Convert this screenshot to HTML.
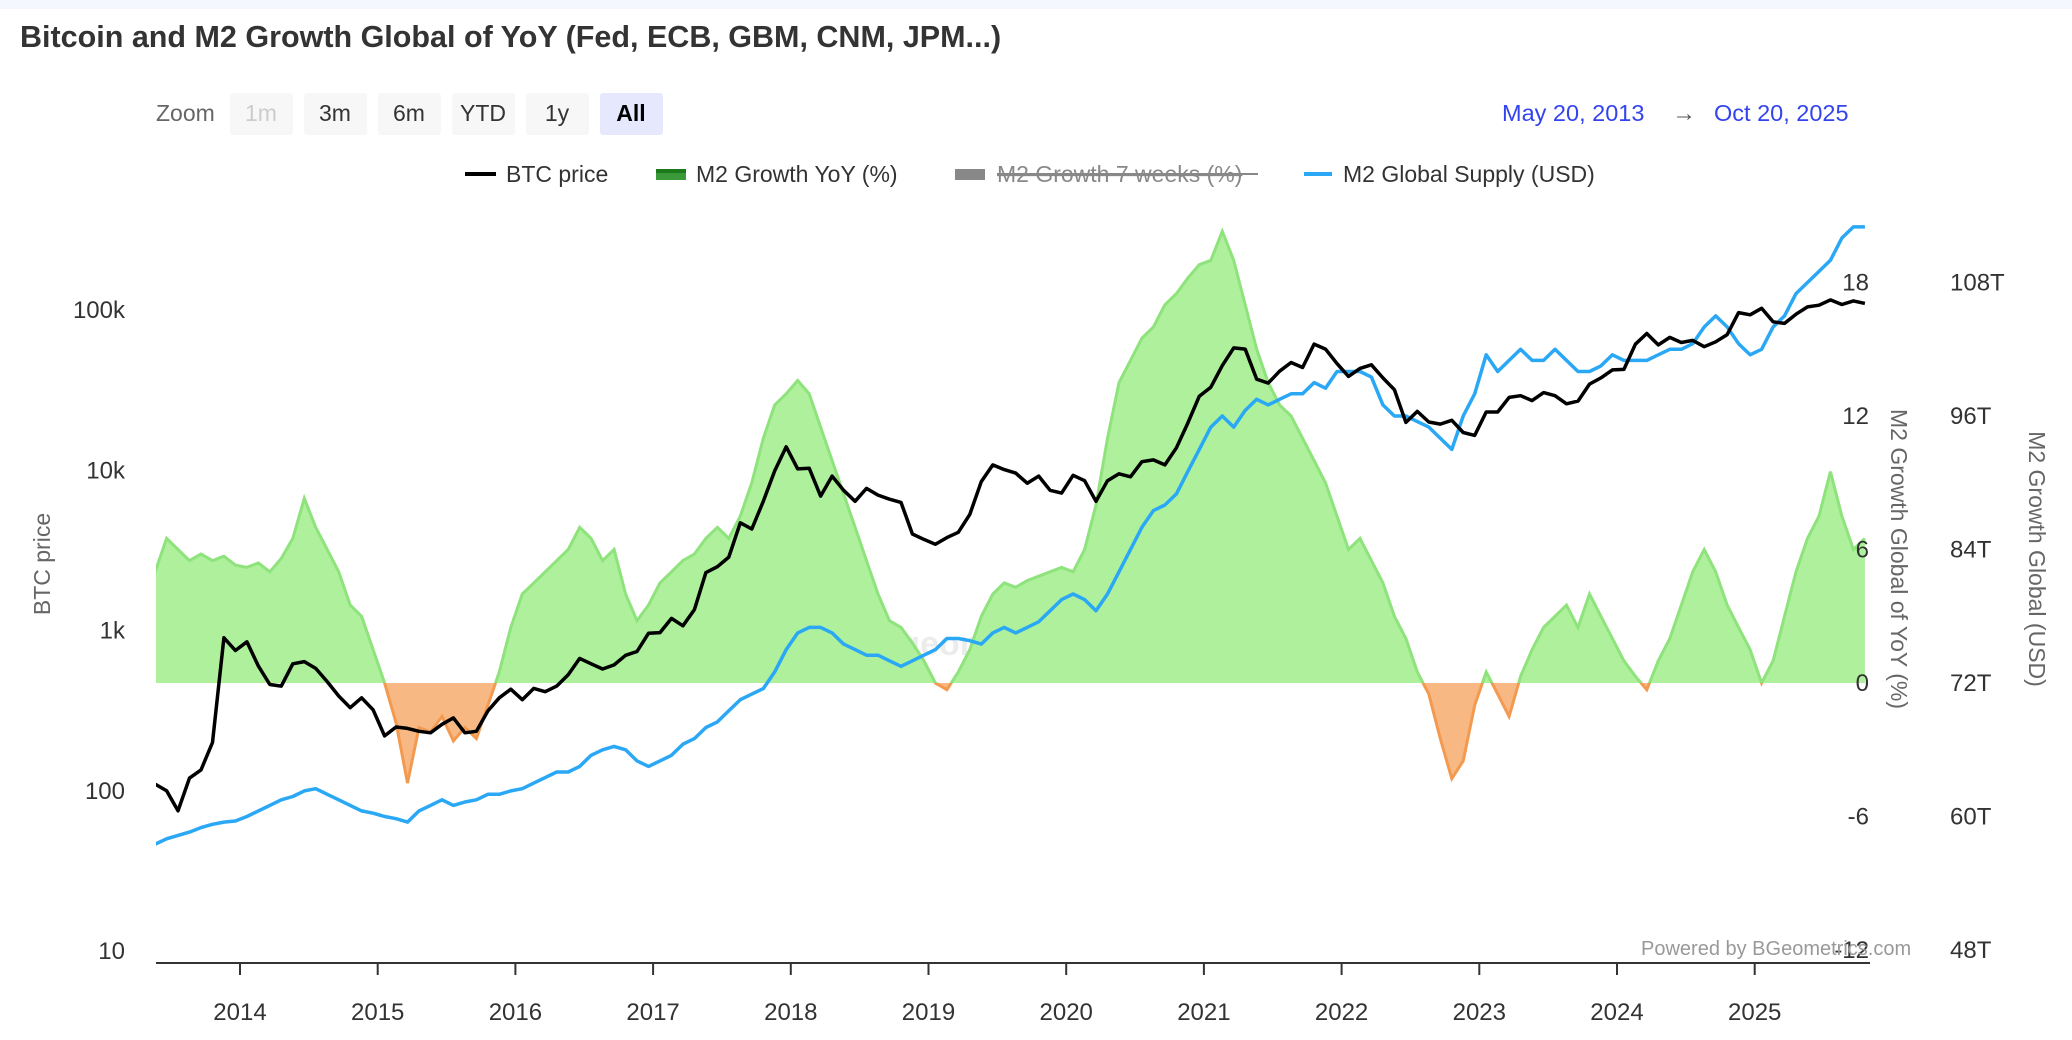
<!DOCTYPE html>
<html><head><meta charset="utf-8">
<style>
html,body{margin:0;padding:0;background:#fff;width:2072px;height:1040px;overflow:hidden;font-family:"Liberation Sans",sans-serif;}
svg{display:block}
</style></head>
<body>
<svg id="chart" width="2072" height="1040" xmlns="http://www.w3.org/2000/svg">
<rect x="0" y="0" width="2072" height="9" fill="#f5f7fe"/>
<text x="20" y="47" font-size="30.5" font-weight="bold" fill="#333">Bitcoin and M2 Growth Global of YoY (Fed, ECB, GBM, CNM, JPM...)</text>
<g font-size="23">
<text x="156" y="121" fill="#666">Zoom</text>
<g><rect x="230" y="93" width="63" height="42" rx="3" fill="#f7f7f7"/><text x="261" y="121" text-anchor="middle" fill="#ccc">1m</text></g>
<g><rect x="304" y="93" width="63" height="42" rx="3" fill="#f7f7f7"/><text x="335" y="121" text-anchor="middle" fill="#333">3m</text></g>
<g><rect x="378" y="93" width="63" height="42" rx="3" fill="#f7f7f7"/><text x="409" y="121" text-anchor="middle" fill="#333">6m</text></g>
<g><rect x="452" y="93" width="63" height="42" rx="3" fill="#f7f7f7"/><text x="483" y="121" text-anchor="middle" fill="#333">YTD</text></g>
<g><rect x="526" y="93" width="63" height="42" rx="3" fill="#f7f7f7"/><text x="557" y="121" text-anchor="middle" fill="#333">1y</text></g>
<g><rect x="600" y="93" width="63" height="42" rx="3" fill="#e6e9fd"/><text x="631" y="121" text-anchor="middle" fill="#000" font-weight="bold">All</text></g>
</g>
<g font-size="23.5">
<text x="1502" y="121" fill="#3344ee">May 20, 2013</text>
<text x="1684" y="121" fill="#555" text-anchor="middle">→</text>
<text x="1714" y="121" fill="#3344ee">Oct 20, 2025</text>
</g>
<g font-size="23">
<g><line x1="465" y1="174" x2="496" y2="174" stroke="#000" stroke-width="4"/><text x="506" y="182" fill="#333">BTC price</text></g>
<g><rect x="656" y="169" width="30" height="11" fill="#3a9a3a"/><rect x="656" y="169" width="30" height="4" fill="#1c7a1c"/><text x="696" y="182" fill="#333">M2 Growth YoY (%)</text></g>
<g><rect x="955" y="169" width="30" height="11" fill="#888"/><text x="997" y="182" fill="#888" text-decoration="line-through">M2 Growth 7 weeks (%)</text><line x1="997" y1="174" x2="1258" y2="174" stroke="#888" stroke-width="2"/></g>
<g><line x1="1304" y1="174" x2="1332" y2="174" stroke="#2aa8f5" stroke-width="4"/><text x="1343" y="182" fill="#333">M2 Global Supply (USD)</text></g>
</g>
<text x="990" y="655" font-size="34" font-weight="bold" fill="#e8e8e8" text-anchor="middle" opacity="0.8">geometrics</text>
<g id="plot"></g>
<text x="1641" y="955" font-size="20" fill="#999">Powered by BGeometrics.com</text>
</svg>
<script>
const startYear = 2013 + 4.6/12;
const yoyValues = [5.0,6.5,6.0,5.5,5.8,5.5,5.7,5.3,
5.2,5.4,5.0,5.6,6.5,8.3,7.0,6.0,5.0,3.5,3.0,1.5,
0,-1.8,-4.5,-2.0,-2.2,-1.5,-2.6,-2.0,-2.5,-1.0,0.5,2.5,
4.0,4.5,5.0,5.5,6.0,7.0,6.5,5.5,6.0,4.0,2.8,3.5,
4.5,5.0,5.5,5.8,6.5,7.0,6.5,7.5,9.0,11.0,12.5,13.0,
13.6,13.0,11.5,10.0,8.5,7.0,5.5,4.0,2.8,2.5,1.8,1.0,
0.0,-0.3,0.5,1.5,3.0,4.0,4.5,4.3,4.6,4.8,5.0,5.2,
5.0,6.0,8.0,11.0,13.5,14.5,15.5,16.0,17.0,17.5,18.2,18.8,
19.0,20.3,19.0,17.0,15.0,13.5,12.5,12.0,11.0,10.0,9.0,7.5,
6.0,6.5,5.5,4.5,3.0,2.0,0.5,-0.5,-2.5,-4.3,-3.5,-1.0,
0.5,-0.5,-1.5,0.3,1.5,2.5,3.0,3.5,2.5,4.0,3.0,2.0,
1.0,0.3,-0.3,1.0,2.0,3.5,5.0,6.0,5.0,3.5,2.5,1.5,
0.0,1.0,3.0,5.0,6.5,7.5,9.5,7.5,6.0,6.5];
const btcValues = [110,100,75,120,135,200,900,750,
850,600,460,450,620,640,580,480,390,330,380,320,
220,250,245,235,230,260,285,230,235,315,380,430,
370,435,415,450,530,670,620,575,610,700,740,960,
970,1190,1070,1350,2300,2500,2870,4700,4300,6400,9900,14000,
10200,10300,6900,9200,7500,6400,7700,7000,6600,6300,4000,3700,
3450,3800,4100,5300,8500,10800,10100,9600,8300,9200,7500,7200,
9300,8600,6400,8600,9500,9100,11300,11600,10800,13800,19700,29000,
33000,45000,58000,57000,37000,35000,41500,47000,43800,61300,57000,46300,
38500,43200,45500,37700,31800,19900,23300,20000,19400,20500,17200,16500,
23100,23100,28500,29200,27200,30500,29200,26000,27000,34500,37700,42300,
42600,61200,71300,60600,67500,62700,64600,59000,63300,70200,96400,93400,
102400,84400,82500,94200,104600,107100,115700,108200,114000,110000];
const m2Values = [57.5,58,58.3,58.6,59,59.3,59.5,59.6,
60,60.5,61,61.5,61.8,62.3,62.5,62,61.5,61,60.5,60.3,
60,59.8,59.5,60.5,61,61.5,61,61.3,61.5,62,62,62.3,
62.5,63,63.5,64,64,64.5,65.5,66,66.3,66,65,64.5,
65,65.5,66.5,67,68,68.5,69.5,70.5,71,71.5,73,75,
76.5,77,77,76.5,75.5,75,74.5,74.5,74,73.5,74,74.5,
75,76,76,75.8,75.5,76.5,77,76.5,77,77.5,78.5,79.5,
80,79.5,78.5,80,82,84,86,87.5,88,89,91,93,
95,96,95,96.5,97.5,97,97.5,98,98,99,98.5,100,
100,100,99.5,97,96,96,95.5,95,94,93,96,98,
101.5,100,101,102,101,101,102,101,100,100,100.5,101.5,
101,101,101,101.5,102,102,102.5,104,105,104,102.5,101.5,
102,104,105,107,108,109,110,112,113,113];
const yearTicks = [2014,2015,2016,2017,2018,2019,2020,2021,2022,2023,2024,2025];
const btcTicks = [10,100,1000,10000,100000];
const btcTickLabels = ["10","100","1k","10k","100k"];
const yoyTicks = [-12,-6,0,6,12,18];
const m2Ticks = [48,60,72,84,96,108];

const X0=156, X1=1870;
const xS = t => 240 + (t-2014)*137.7;
const yBtc = v => 951 - (Math.log10(v)-1)*160.25;
const yYoy = v => 683 - v*22.25;
const yM2 = v => 683 - (v-72)*11.125;
const tAt = i => Math.min(startYear + i/12, 2025.8);

const NS="http://www.w3.org/2000/svg";
const plot=document.getElementById('plot');
function mk(tag,attrs,parent){const e=document.createElementNS(NS,tag);for(const k in attrs)e.setAttribute(k,attrs[k]);(parent||plot).appendChild(e);return e;}

const defs=mk('defs',{});
const cpA=mk('clipPath',{id:'above'},defs); mk('rect',{x:X0,y:0,width:X1-X0,height:683},cpA);
const cpB=mk('clipPath',{id:'below'},defs); mk('rect',{x:X0,y:683,width:X1-X0,height:300},cpB);
const cpP=mk('clipPath',{id:'plotclip'},defs); mk('rect',{x:X0,y:0,width:X1-X0,height:963},cpP);

let line='';
yoyValues.forEach((v,i)=>{line+=(i?'L':'M')+xS(tAt(i)).toFixed(1)+','+yYoy(v).toFixed(1);});
const area=line+'L'+xS(tAt(yoyValues.length-1)).toFixed(1)+',683L'+xS(startYear).toFixed(1)+',683Z';
const ga=mk('path',{d:area,fill:'#aef09c',stroke:'none','clip-path':'url(#above)'});


const gl=mk('path',{d:line,fill:'none',stroke:'#8fe37c','stroke-width':3,'clip-path':'url(#above)'});


const oa=mk('path',{d:area,fill:'#f8b884',stroke:'none','clip-path':'url(#below)'});


const ol=mk('path',{d:line,fill:'none',stroke:'#f39a50','stroke-width':3,'clip-path':'url(#below)'});



let m2d='';
m2Values.forEach((v,i)=>{m2d+=(i?'L':'M')+xS(tAt(i)).toFixed(1)+','+yM2(v).toFixed(1);});
const m2l=mk('path',{d:m2d,fill:'none',stroke:'#2aa8f5','stroke-width':3.5,'stroke-linejoin':'round','clip-path':'url(#plotclip)'});



let bd='';
btcValues.forEach((v,i)=>{bd+=(i?'L':'M')+xS(tAt(i)).toFixed(1)+','+yBtc(v).toFixed(1);});
const bl=mk('path',{d:bd,fill:'none',stroke:'#000','stroke-width':3.5,'stroke-linejoin':'round','clip-path':'url(#plotclip)'});



const ax=mk('line',{x1:X0,y1:963,x2:X1,y2:963,stroke:'#333','stroke-width':2});


yearTicks.forEach(y=>{
  const x=xS(y);
  const tk=mk('line',{x1:x,y1:963,x2:x,y2:975,stroke:'#333','stroke-width':2});
  
  
  const t=mk('text',{x:x,y:1020,'font-size':24,'text-anchor':'middle',fill:'#333'});
  t.textContent=y;
  
  
});
btcTicks.forEach((v,i)=>{
  const t=mk('text',{x:125,y:yBtc(v)+8,'font-size':24,'text-anchor':'end',fill:'#333'});
  t.textContent=btcTickLabels[i];
  
  
});
const lt=mk('text',{x:0,y:0,'font-size':23,'text-anchor':'middle',fill:'#666',transform:'translate(50,564) rotate(-90)'});
lt.textContent='BTC price';


yoyTicks.forEach(v=>{
  const t=mk('text',{x:1869,y:yYoy(v)+8,'font-size':24,'text-anchor':'end',fill:'#333'});
  t.textContent=v;
  
  
});
const rt=mk('text',{x:0,y:0,'font-size':23,'text-anchor':'middle',fill:'#666',transform:'translate(1891,559) rotate(90)'});
rt.textContent='M2 Growth Global of YoY (%)';


m2Ticks.forEach(v=>{
  const t=mk('text',{x:1950,y:yM2(v)+8,'font-size':24,'text-anchor':'start',fill:'#333'});
  t.textContent=v+'T';
  
  
});
const rt2=mk('text',{x:0,y:0,'font-size':23,'text-anchor':'middle',fill:'#666',transform:'translate(2029,559) rotate(90)'});
rt2.textContent='M2 Growth Global (USD)';


</script>
</body></html>
